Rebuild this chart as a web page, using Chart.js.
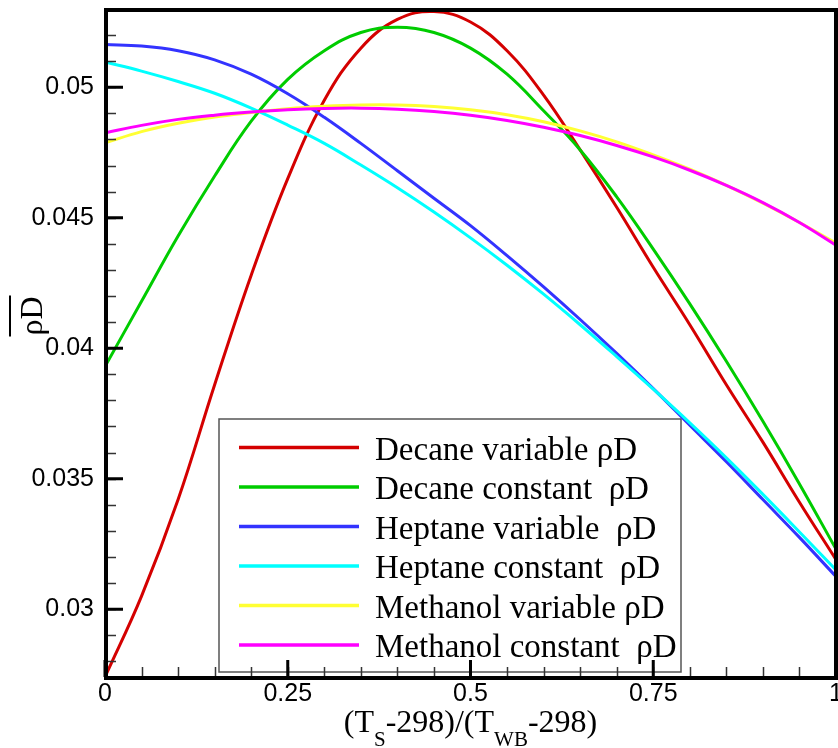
<!DOCTYPE html>
<html>
<head>
<meta charset="utf-8">
<script src="https://cdn.jsdelivr.net/npm/chart.js@4.4.1/dist/chart.umd.min.js"></script>
<style>
  html, body { margin: 0; padding: 0; background: #fff; }
  #wrap { width: 838px; height: 748px; }
</style>
</head>
<body>
<div id="wrap"><canvas id="rhoDChart" width="838" height="748"></canvas></div>
<script>
// (Ts-298)/(Twb-298)
const xValues = [0, 0.05, 0.1, 0.15, 0.2, 0.25, 0.3, 0.35, 0.4, 0.45, 0.5, 0.55, 0.6, 0.65, 0.7, 0.75, 0.8, 0.85, 0.9, 0.95, 1];

const decaneVariable   = [0.0274, 0.0305, 0.0342, 0.0386, 0.0428, 0.0465, 0.0495, 0.0515, 0.0526, 0.0529, 0.0525, 0.0514, 0.0497, 0.0476, 0.0454, 0.0431, 0.0409, 0.0386, 0.0364, 0.0341, 0.0319];
const decaneConstant   = [0.0393, 0.0418, 0.0443, 0.0466, 0.0487, 0.0503, 0.0514, 0.0521, 0.0523, 0.0521, 0.0515, 0.0505, 0.0491, 0.0476, 0.0458, 0.0438, 0.0417, 0.0395, 0.0372, 0.0348, 0.0323];
const heptaneVariable  = [0.05164, 0.05158, 0.05140, 0.05105, 0.05050, 0.04975, 0.04885, 0.04785, 0.04680, 0.04575, 0.04470, 0.04355, 0.04235, 0.04110, 0.03980, 0.03845, 0.03705, 0.03565, 0.03420, 0.03275, 0.03125];
const heptaneConstant  = [0.05097, 0.05062, 0.05022, 0.04977, 0.04920, 0.04855, 0.04785, 0.04702, 0.04615, 0.04522, 0.04423, 0.04318, 0.04207, 0.04090, 0.03968, 0.03843, 0.03714, 0.03580, 0.03440, 0.03296, 0.03150];
const methanolVariable = [0.04787, 0.04830, 0.04862, 0.04886, 0.04903, 0.04918, 0.04927, 0.04932, 0.04932, 0.04926, 0.04914, 0.04895, 0.04868, 0.04833, 0.04791, 0.04741, 0.04686, 0.04624, 0.04556, 0.04482, 0.04403];
const methanolConstant = [0.04825, 0.04854, 0.04877, 0.04893, 0.04905, 0.04914, 0.04919, 0.04920, 0.04916, 0.04907, 0.04893, 0.04873, 0.04847, 0.04815, 0.04777, 0.04733, 0.04682, 0.04624, 0.04558, 0.04482, 0.04395];

const seriesNames = [
  'Decane variable \u03c1D',
  'Decane constant  \u03c1D',
  'Heptane variable  \u03c1D',
  'Heptane constant  \u03c1D',
  'Methanol variable \u03c1D',
  'Methanol constant  \u03c1D'
];
const seriesValues = [decaneVariable, decaneConstant, heptaneVariable, heptaneConstant, methanolVariable, methanolConstant];
const seriesColors = ['#d40000', '#00cc00', '#3333ff', '#00ffff', '#ffff33', '#ff00ff'];

const xTicks = [0, 0.25, 0.5, 0.75, 1];
const xTickLabels = ['0', '0.25', '0.5', '0.75', '1'];
const yTicks = [0.03, 0.035, 0.04, 0.045, 0.05];
const yTickLabels = ['0.03', '0.035', '0.04', '0.045', '0.05'];

const serif = '"Liberation Serif", "Times New Roman", serif';
const sans = '"Liberation Sans", Arial, sans-serif';

// legend box inside the plot, drawn under the curves
const legendBox = {
  id: 'legendBox',
  beforeDatasetsDraw(chart) {
    const ctx = chart.ctx;
    ctx.save();
    ctx.fillStyle = '#fff';
    ctx.fillRect(219, 419, 462, 253);
    ctx.strokeStyle = '#555';
    ctx.lineWidth = 1.5;
    ctx.strokeRect(219, 419, 462, 253);
    ctx.font = '33px ' + serif;
    ctx.textBaseline = 'alphabetic';
    ctx.textAlign = 'left';
    chart.data.datasets.forEach((ds, i) => {
      const y = 447.5 + i * 39.5;
      ctx.strokeStyle = ds.borderColor;
      ctx.lineWidth = 3.5;
      ctx.beginPath();
      ctx.moveTo(239, y);
      ctx.lineTo(359, y);
      ctx.stroke();
      ctx.fillStyle = '#000';
      ctx.fillText(ds.label, 375, y + 12);
    });
    ctx.restore();
  }
};

// frame, inward ticks and axis titles
const frameAndTicks = {
  id: 'frameAndTicks',
  afterDraw(chart) {
    const ctx = chart.ctx;
    const a = chart.chartArea;
    const xs = chart.scales.x, ys = chart.scales.y;
    ctx.save();

    // minor ticks
    ctx.lineWidth = 1.5;
    ctx.strokeStyle = '#333';
    ctx.beginPath();
    for (let v = 0.028; v < 0.0535; v += 0.001) {
      const p = Math.round(ys.getPixelForValue(v)) + 0.5;
      ctx.moveTo(a.left, p); ctx.lineTo(a.left + 11, p);
    }
    for (let v = 0.05; v < 1; v += 0.05) {
      const p = Math.round(xs.getPixelForValue(v)) + 0.5;
      ctx.moveTo(p, a.bottom); ctx.lineTo(p, a.bottom - 10);
    }
    ctx.stroke();

    // major ticks
    ctx.strokeStyle = '#000';
    ctx.lineWidth = 3;
    ctx.beginPath();
    yTicks.forEach(v => {
      const p = ys.getPixelForValue(v);
      ctx.moveTo(a.left, p); ctx.lineTo(a.left + 18, p);
    });
    xTicks.forEach(v => {
      const p = xs.getPixelForValue(v);
      ctx.moveTo(p, a.bottom); ctx.lineTo(p, a.bottom - 17);
    });
    ctx.stroke();

    // frame
    ctx.lineWidth = 4;
    ctx.strokeRect(a.left + 1, a.top + 1, a.right - a.left - 1, a.bottom - a.top);

    // x title with subscripts
    const big = '32px ' + serif, small = '21px ' + serif;
    const parts = [['(T', big, 0], ['S', small, 14], ['-298)/(T', big, 0], ['WB', small, 14], ['-298)', big, 0]];
    let total = 0;
    parts.forEach(p => { ctx.font = p[1]; total += ctx.measureText(p[0]).width; });
    let x = (a.left + a.right) / 2 - total / 2;
    ctx.fillStyle = '#000';
    ctx.textBaseline = 'alphabetic';
    ctx.textAlign = 'left';
    parts.forEach(p => {
      ctx.font = p[1];
      ctx.fillText(p[0], x, 732 + p[2]);
      x += ctx.measureText(p[0]).width;
    });

    // y title: rho D with overbar
    ctx.translate(42, 316);
    ctx.rotate(-Math.PI / 2);
    ctx.font = '32px ' + serif;
    ctx.textAlign = 'center';
    ctx.fillText('\u03c1D', 0, 0);
    const w = ctx.measureText('\u03c1D').width;
    ctx.lineWidth = 2;
    ctx.beginPath();
    ctx.moveTo(-w / 2 - 1, -32);
    ctx.lineTo(w / 2 + 1, -32);
    ctx.stroke();
    ctx.restore();
  }
};

new Chart(document.getElementById('rhoDChart'), {
  type: 'line',
  data: {
    datasets: seriesNames.map((name, i) => ({
      label: name,
      data: xValues.map((x, j) => ({ x: x, y: seriesValues[i][j] })),
      borderColor: seriesColors[i],
      backgroundColor: seriesColors[i],
      borderWidth: 3,
      pointRadius: 0,
      fill: false,
      tension: 0.4,
      order: seriesNames.length - i
    }))
  },
  options: {
    responsive: false,
    animation: false,
    layout: { padding: { left: 0, right: 2, top: 9, bottom: 0 } },
    scales: {
      x: {
        type: 'linear',
        min: 0,
        max: 1,
        grid: { display: false, drawTicks: false },
        border: { display: false },
        afterBuildTicks: function (scale) {
          scale.ticks = xTicks.map(v => ({ value: v }));
        },
        afterFit: function (scale) {
          scale.height = 71;
          scale.paddingLeft = 0;
          scale.paddingRight = 0;
        },
        ticks: {
          autoSkip: false,
          maxRotation: 0,
          padding: 2,
          color: '#000',
          font: { family: sans, size: 25 },
          callback: function (value, index) {
            return xTickLabels[index];
          }
        }
      },
      y: {
        type: 'linear',
        min: 0.0274,
        max: 0.053,
        grid: { display: false, drawTicks: false },
        border: { display: false },
        afterBuildTicks: function (scale) {
          scale.ticks = yTicks.map(v => ({ value: v }));
        },
        afterFit: function (scale) {
          scale.width = 105;
          scale.paddingTop = 0;
          scale.paddingBottom = 0;
        },
        ticks: {
          autoSkip: false,
          padding: 11,
          color: '#000',
          font: { family: sans, size: 25 },
          callback: function (value, index) {
            return yTickLabels[index];
          }
        }
      }
    },
    plugins: {
      legend: { display: false },
      tooltip: { enabled: false }
    }
  },
  plugins: [legendBox, frameAndTicks]
});
</script>
</body>
</html>
